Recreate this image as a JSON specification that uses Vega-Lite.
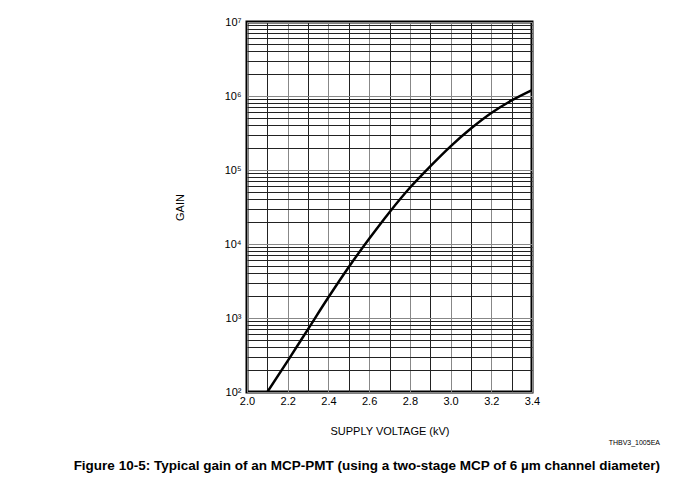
{
  "$schema": "https://vega.github.io/schema/vega-lite/v6.json",
  "width": 285,
  "height": 370,
  "autosize": "none",
  "padding": {"left": 247, "top": 22, "right": 146, "bottom": 89},
  "background": "white",
  "config": {
    "font": "Liberation Sans",
    "view": {"stroke": "black", "strokeWidth": 3}
  },
  "title": {
    "text": "Figure 10-5: Typical gain of an MCP-PMT (using a two-stage MCP of 6 µm channel diameter)",
    "subtitle": "THBV3_1005EA\u00a0\u00a0\u00a0\u00a0\u00a0\u00a0\u00a0\u00a0\u00a0",
    "orient": "bottom",
    "anchor": "end",
    "frame": "group",
    "dx": 128,
    "offset": 23,
    "fontSize": 13.5,
    "fontWeight": "bold",
    "color": "black",
    "subtitleFontSize": 7,
    "subtitleColor": "black",
    "subtitlePadding": -34
  },
  "data": {
    "values": [
      {"kv": 2.1, "gain": 100},
      {"kv": 2.2, "gain": 263},
      {"kv": 2.3, "gain": 708},
      {"kv": 2.4, "gain": 1905},
      {"kv": 2.5, "gain": 4898},
      {"kv": 2.6, "gain": 11750},
      {"kv": 2.7, "gain": 26900},
      {"kv": 2.8, "gain": 57500},
      {"kv": 2.9, "gain": 112000},
      {"kv": 3.0, "gain": 209000},
      {"kv": 3.1, "gain": 363000},
      {"kv": 3.2, "gain": 589000},
      {"kv": 3.3, "gain": 871000},
      {"kv": 3.4, "gain": 1202000}
    ]
  },
  "mark": {"type": "line", "color": "black", "strokeWidth": 2.5, "interpolate": "monotone", "clip": true},
  "encoding": {
    "x": {
      "field": "kv",
      "type": "quantitative",
      "scale": {"domain": [2.0, 3.4], "nice": false, "zero": false},
      "axis": {
        "title": "SUPPLY VOLTAGE (kV)",
        "values": [2.0, 2.1, 2.2, 2.3, 2.4, 2.5, 2.6, 2.7, 2.8, 2.9, 3.0, 3.1, 3.2, 3.3, 3.4],
        "labelExpr": "round(datum.value * 10) % 2 == 0 ? format(datum.value, '.1f') : ''",
        "domain": false,
        "ticks": false,
        "labelPadding": 3,
        "labelFontSize": 11,
        "labelColor": "black",
        "labelFlush": false,
        "titleFontSize": 11,
        "titleFontWeight": "normal",
        "titleColor": "black",
        "titlePadding": 19,
        "grid": true,
        "gridColor": {"condition": {"test": "round(datum.value * 10) % 2 == 0", "value": "#888888"}, "value": "#222222"},
        "gridOpacity": 1,
        "gridWidth": 1
      }
    },
    "y": {
      "field": "gain",
      "type": "quantitative",
      "scale": {"type": "log", "domain": [100, 10000000], "nice": false},
      "axis": {
        "title": "GAIN",
        "values": [100, 200, 300, 400, 500, 600, 700, 800, 900,
                   1000, 2000, 3000, 4000, 5000, 6000, 7000, 8000, 9000,
                   10000, 20000, 30000, 40000, 50000, 60000, 70000, 80000, 90000,
                   100000, 200000, 300000, 400000, 500000, 600000, 700000, 800000, 900000,
                   1000000, 2000000, 3000000, 4000000, 5000000, 6000000, 7000000, 8000000, 9000000,
                   10000000],
        "labelExpr": "datum.value == 100 ? '10²' : datum.value == 1000 ? '10³' : datum.value == 10000 ? '10⁴' : datum.value == 100000 ? '10⁵' : datum.value == 1000000 ? '10⁶' : datum.value == 10000000 ? '10⁷' : ''",
        "domain": false,
        "ticks": false,
        "labelPadding": 6,
        "labelFontSize": 11,
        "labelColor": "black",
        "labelBaseline": "middle",
        "labelFlush": false,
        "labelOverlap": false,
        "titleFontSize": 11,
        "titleFontWeight": "normal",
        "titleColor": "black",
        "titlePadding": 39,
        "grid": true,
        "gridColor": {"condition": {"test": "datum.value == 100 || datum.value == 1000 || datum.value == 10000 || datum.value == 100000 || datum.value == 1000000 || datum.value == 10000000", "value": "#888888"}, "value": "#222222"},
        "gridOpacity": 1,
        "gridWidth": 1
      }
    }
  }
}
